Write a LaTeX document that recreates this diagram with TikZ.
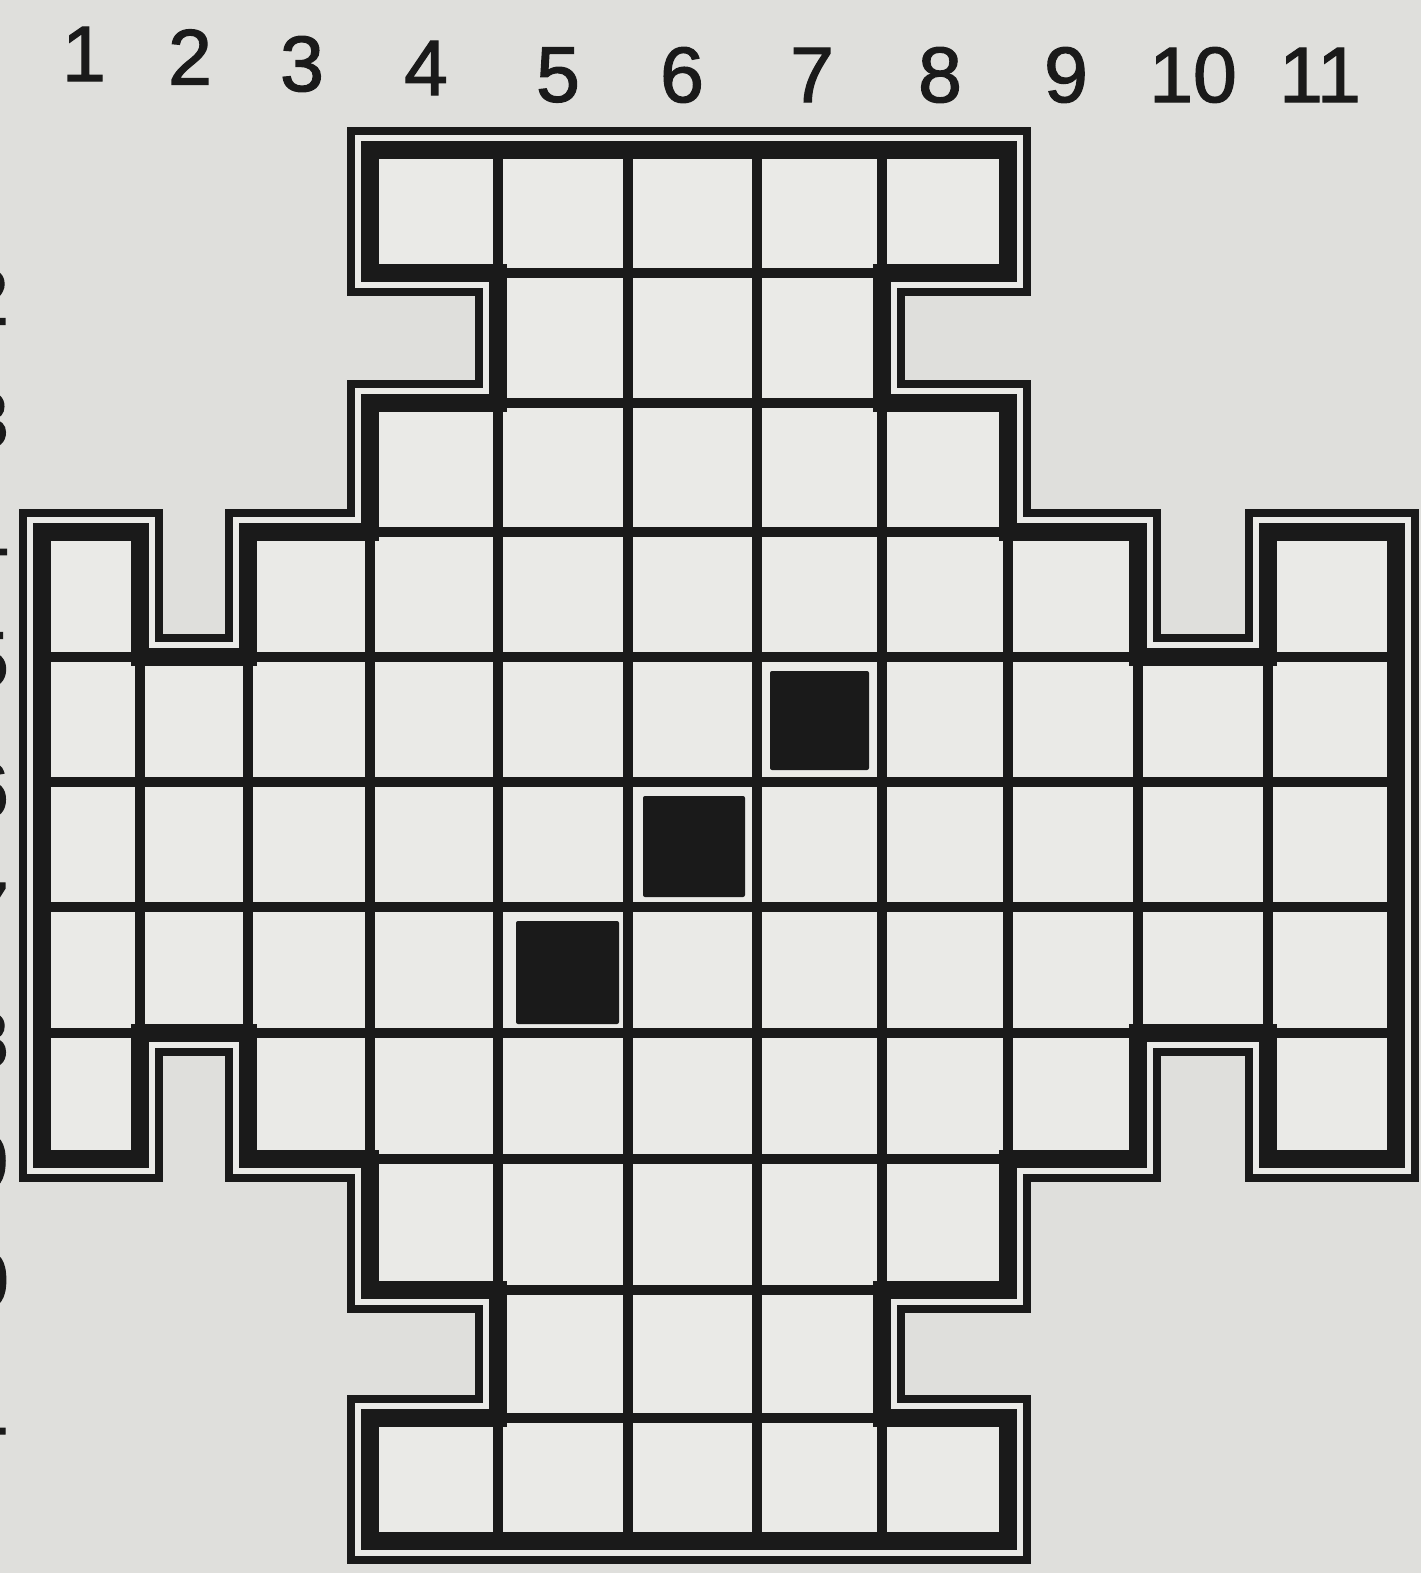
\documentclass[tikz,border=0pt]{standalone}
\usepackage{fontspec}
\setmainfont{Liberation Sans}
\newfontfamily\labfont[FakeBold=1.6]{Liberation Sans}
\usetikzlibrary{calc}
\definecolor{paper}{HTML}{DFDFDC}
\definecolor{cellc}{HTML}{EAEAE7}
\definecolor{ink}{HTML}{1A1A1A}
\begin{document}
\begin{tikzpicture}[x=0.05cm,y=-0.05cm,
  gridline/.style={draw=ink, line width=0.5cm},
  lab/.style={font=\labfont\fontsize{112}{112}\selectfont, text=ink, inner sep=0pt},
  blackcell/.style={fill=ink, rounded corners=0.1cm}]
\useasboundingbox (0,0) rectangle (1421,1573);
\fill[paper] (0,0) rectangle (1421,1573);
\foreach \i/\xx in {0/42,1/140,2/248,3/370,4/498,5/628,6/757,7/882,8/1008,9/1138,10/1268,11/1396}{
  \foreach \j/\yy in {0/150,1/273,2/403,3/532,4/657,5/782,6/907,7/1033,8/1159,9/1290,10/1418,11/1541}{
    \coordinate (p\i-\j) at (\xx,\yy);
  }
}
\def\outline{(p3-0) -- (p8-0) -- (p8-1) -- (p7-1) -- (p7-2) -- (p8-2) -- (p8-3) -- (p9-3) -- (p9-4) -- (p10-4) -- (p10-3) -- (p11-3) -- (p11-8) -- (p10-8) -- (p10-7) -- (p9-7) -- (p9-8) -- (p8-8) -- (p8-9) -- (p7-9) -- (p7-10) -- (p8-10) -- (p8-11) -- (p3-11) -- (p3-10) -- (p4-10) -- (p4-9) -- (p3-9) -- (p3-8) -- (p2-8) -- (p2-7) -- (p1-7) -- (p1-8) -- (p0-8) -- (p0-3) -- (p1-3) -- (p1-4) -- (p2-4) -- (p2-3) -- (p3-3) -- (p3-2) -- (p4-2) -- (p4-1) -- (p3-1) -- cycle}
% outer thin line and gap
\draw[ink, line width=2.3cm, line join=miter] \outline;
\draw[cellc, line width=1.5cm, line join=miter] \outline;
\fill[cellc] \outline;
% cells
\foreach \r/\cs in {1/{4,5,6,7,8},2/{5,6,7},3/{4,5,6,7,8},4/{1,3,4,5,6,7,8,9,11},5/{1,2,3,4,5,6,7,8,9,10,11},6/{1,2,3,4,5,6,7,8,9,10,11},7/{1,2,3,4,5,6,7,8,9,10,11},8/{1,3,4,5,6,7,8,9,11},9/{4,5,6,7,8},10/{5,6,7},11/{4,5,6,7,8}}{
  \foreach \c in \cs {
    \pgfmathtruncatemacro\cp{\c-1}
    \pgfmathtruncatemacro\rp{\r-1}
    \draw[gridline] (p\cp-\rp) rectangle (p\c-\r);
  }
}
% thick border
\draw[ink, line width=0.9cm, line join=miter] \outline;
% black squares
\fill[blackcell] ($(p6-4)+(13,14)$) rectangle ($(p7-5)+(-13,-12)$);
\fill[blackcell] ($(p5-5)+(15,14)$) rectangle ($(p6-6)+(-12,-10)$);
\fill[blackcell] ($(p4-6)+(18,14)$) rectangle ($(p5-7)+(-9,-9)$);
% column labels
\foreach \n/\xx/\yy in {1/84/54,2/190/57,3/302/64,4/426/68,5/558/75,6/682/75,7/812/75,8/940/75,9/1066/75,10/1193/75,11/1320/75}
  \node[lab] (c\n) at (\xx,\yy) {\n};
% row labels (cut by the left edge, as in the reference)
\foreach \n/\yy in {2/297,3/420,4/540,5/660,6/790,7/910,8/1040,9/1162,10/1280,11/1407}
  \node[lab, anchor=east] (r\n) at (9,\yy) {\n};
\end{tikzpicture}
\end{document}
